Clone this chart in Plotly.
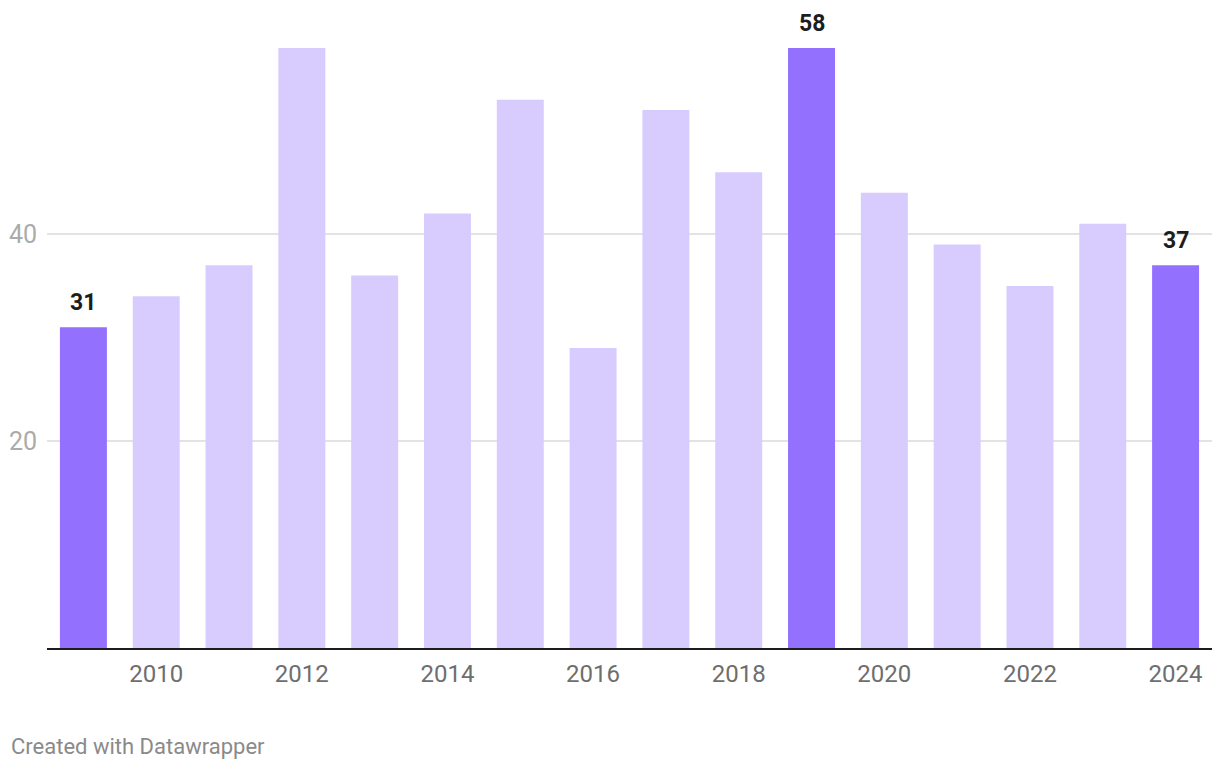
import plotly.graph_objects as go

years = list(range(2009, 2025))
values = [31, 34, 37, 58, 36, 42, 53, 29, 52, 46, 58, 44, 39, 35, 41, 37]
highlight_years = [2009, 2019, 2024]
y_ticks = [20, 40]
x_ticks = [2010, 2012, 2014, 2016, 2018, 2020, 2022, 2024]

DARK = "#9470ff"
LIGHT = "#d8ccff"
colors = [DARK if y in highlight_years else LIGHT for y in years]

fig = go.Figure()
fig.add_trace(go.Bar(x=years, y=values, marker=dict(color=colors, line=dict(width=0)),
                     hoverinfo="x+y"))

for yr, v in zip(years, values):
    if yr in highlight_years:
        fig.add_annotation(x=yr, y=v, text=f"<b>{v}</b>", showarrow=False,
                           yanchor="bottom", yshift=9,
                           font=dict(family="Roboto", size=23, color="#1d1d1d"))

fig.add_annotation(xref="paper", yref="paper", x=-38/1165, y=-98/600,
                   xanchor="left", yanchor="middle", showarrow=False,
                   text="Created with Datawrapper",
                   font=dict(family="Roboto", size=22, color="#8a8a8a"))

fig.update_layout(
    width=1220, height=770,
    margin=dict(l=47, r=8, t=48, b=122),
    paper_bgcolor="white", plot_bgcolor="white",
    bargap=0.355, showlegend=False,
    font=dict(family="Roboto"),
    xaxis=dict(range=[2008.5, 2024.5], tickvals=x_ticks, ticktext=[str(t) for t in x_ticks],
               showgrid=False, zeroline=False, showline=True, linecolor="#1d1d1d", linewidth=2,
               ticks="", tickfont=dict(family="Roboto", size=24, color="#6e6e6e"),
               ticklabelstandoff=3, fixedrange=True),
    yaxis=dict(range=[0, 58], tickvals=y_ticks, ticktext=[str(t) for t in y_ticks],
               showgrid=True, gridcolor="#e3e3e3", gridwidth=1.5, zeroline=False,
               showline=False, ticks="", tickfont=dict(family="Roboto", size=25, color="#ababab"),
               ticklabelstandoff=9, fixedrange=True),
)

fig.write_html("out.html")
